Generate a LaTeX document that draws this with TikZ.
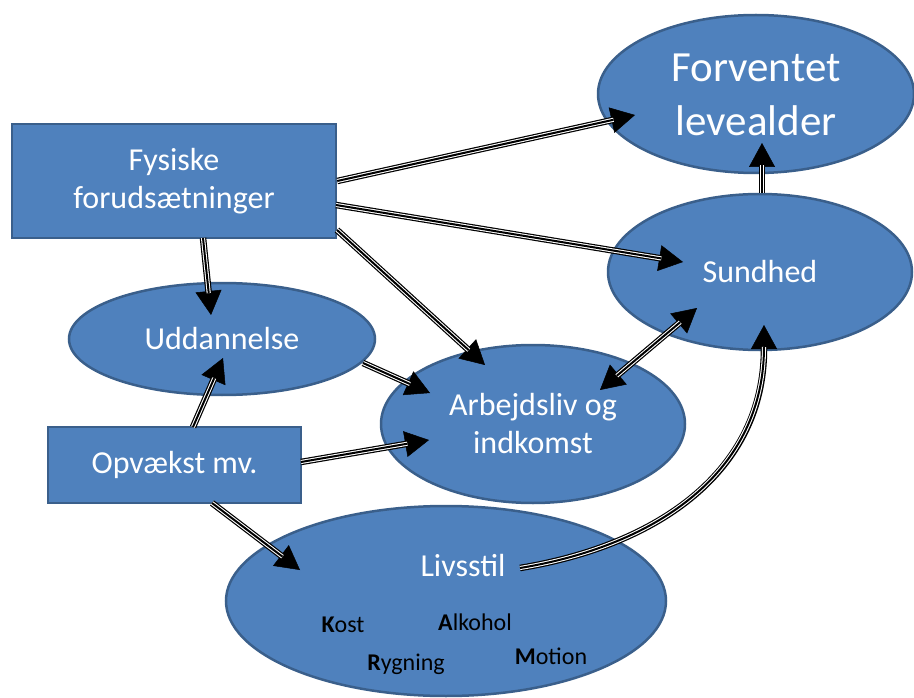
\documentclass[tikz,border=0pt]{standalone}
\usepackage{fontspec}
\setmainfont{Carlito}
\usetikzlibrary{arrows.meta,shapes.geometric}
\definecolor{obl}{HTML}{4F81BD}
\definecolor{obd}{HTML}{3A5F8B}
\tikzset{
  blob/.style={ellipse, fill=obl, draw=obd, line width=2.5pt, inner sep=0pt, text=white, align=center},
  boxn/.style={rectangle, fill=obl, draw=obd, line width=2.5pt, inner sep=0pt, text=white, align=center},
  big/.style={font=\fontsize{43}{54}\selectfont},
  mid/.style={font=\fontsize{32}{38}\selectfont},
  small/.style={font=\fontsize{24}{28}\selectfont, text=black, inner sep=0pt},
  tipx/.tip={Triangle[length=24pt 0 0,width=26pt 0 0,line width=0.5pt]},
  arr/.style={draw=black, line width=6.5pt, -tipx,
    postaction={draw=white, line width=4.1pt, -, shorten >=22pt},
    postaction={draw=black, line width=2pt, -, shorten >=22pt}},
  darr/.style={draw=black, line width=6.5pt, tipx-tipx,
    postaction={draw=white, line width=4.1pt, -, shorten >=22pt, shorten <=22pt},
    postaction={draw=black, line width=2pt, -, shorten >=22pt, shorten <=22pt}},
}
\begin{document}
\begin{tikzpicture}[x=1pt,y=-1pt]
\useasboundingbox (0,0) rectangle (914,698);
\node[blob, minimum width=316, minimum height=158] (fore) at (756,94) {};
\node[big, text=white, align=center] (foret) at (756,95) {Forventet\\levealder};
\node[boxn, minimum width=324, minimum height=114, mid] (fys) at (174,181) {Fysiske\\forudsætninger};
\node[blob, minimum width=304, minimum height=156, mid] (sund) at (760,272) {Sundhed};
\node[blob, minimum width=306, minimum height=112, mid] (udd) at (222,339) {Uddannelse};
\node[blob, minimum width=304, minimum height=158, mid] (arb) at (533,424) {Arbejdsliv og\\indkomst};
\node[boxn, minimum width=253, minimum height=76, mid] (opv) at (174.5,465) {Opvækst mv.};
\node[blob, minimum width=440, minimum height=190] (liv) at (446,601) {};
\node[mid, text=white] (livt) at (463,566) {Livsstil};
\node[small] (kost) at (343,625) {\textbf{K}ost};
\node[small] (alk) at (475,622) {\textbf{A}lkohol};
\node[small] (ryg) at (406,664) {\textbf{R}ygning};
\node[small] (mot) at (551,656) {\textbf{M}otion};

\draw[arr] (fys.east) -- ([shift={(-121,21)}]fore.center);
\draw[arr] ([shift={(162,24)}]fys.center) -- ([shift={(-77,-10)}]sund.center);
\draw[arr] ([shift={(163,49)}]fys.center) -- ([shift={(-48,-59)}]arb.center);
\draw[arr] ([shift={(29,57)}]fys.center) -- ([shift={(-11,-24)}]udd.center);
\draw[arr] ([shift={(18.5,-38)}]opv.center) -- ([shift={(1,19)}]udd.center);
\draw[arr] ([shift={(141,24)}]udd.center) -- ([shift={(-103,-31)}]arb.center);
\draw[arr] ([shift={(126.5,-3)}]opv.center) -- ([shift={(-104,16)}]arb.center);
\draw[arr] ([shift={(37.5,38)}]opv.center) -- ([shift={(-146,-31)}]liv.center);
\draw[arr] ([shift={(74,-33)}]liv.center) .. controls (660,545) and (764,470) .. ([shift={(4,53)}]sund.center);
\draw[arr] ([shift={(2,-79)}]sund.center) -- ([shift={(6,49)}]fore.center);
\draw[darr] ([shift={(67,-34)}]arb.center) -- ([shift={(-63,36)}]sund.center);
\end{tikzpicture}
\end{document}
